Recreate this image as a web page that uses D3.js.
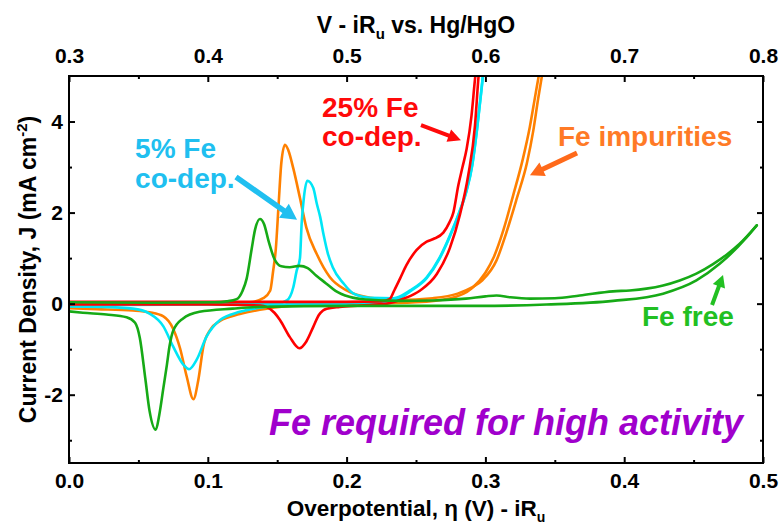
<!DOCTYPE html>
<html>
<head>
<meta charset="utf-8">
<script src="https://cdn.jsdelivr.net/npm/d3@7"></script>
<style>
  body { margin: 0; background: #fff; }
  svg { display: block; }
  text { font-family: "Liberation Sans", Arial, Helvetica, sans-serif; font-weight: bold; }
</style>
</head>
<body>
<svg id="chart" width="780" height="524"></svg>
<script>
// ---- axis ticks ----
const overpotentialTicks = [0.0, 0.1, 0.2, 0.3, 0.4, 0.5];
const potentialTicks = [0.3, 0.4, 0.5, 0.6, 0.7, 0.8];   // V - iRu vs. Hg/HgO
const currentTicks = [-2, 0, 2, 4];
const potentialOffset = 0.3;                              // V vs Hg/HgO = η + 0.3

// ---- cyclic voltammograms: [η (V), J (mA cm^-2)] ----
// Fe free
const feFreeAnodic = [
  [0.000, 0.03], [0.060, 0.02], [0.105, 0.03], [0.1136, 0.05], [0.1208, 0.10], [0.125, 0.28],
  [0.128, 0.55], [0.1316, 1.20], [0.134, 1.62], [0.1376, 1.86], [0.1405, 1.75], [0.144, 1.35],
  [0.148, 0.98], [0.153, 0.82], [0.159, 0.80], [0.166, 0.83], [0.172, 0.78], [0.178, 0.62],
  [0.185, 0.45], [0.192, 0.28], [0.202, 0.15], [0.214, 0.09], [0.238, 0.06], [0.262, 0.07],
  [0.286, 0.11], [0.300, 0.16], [0.308, 0.18], [0.318, 0.14], [0.332, 0.11], [0.350, 0.12],
  [0.368, 0.18], [0.392, 0.27], [0.404, 0.29], [0.416, 0.33], [0.428, 0.40], [0.440, 0.51],
  [0.452, 0.66], [0.464, 0.87], [0.474, 1.08], [0.483, 1.31], [0.4955, 1.72]
];
const feFreeCathodic = [
  [0.000, -0.17], [0.010, -0.20], [0.027, -0.24], [0.0415, -0.30], [0.0476, -0.42], [0.051, -0.75],
  [0.055, -1.65], [0.058, -2.35], [0.0625, -2.77], [0.065, -2.45], [0.068, -1.85], [0.0705, -1.35],
  [0.0725, -0.92], [0.075, -0.60], [0.082, -0.33], [0.094, -0.18], [0.118, -0.11], [0.138, -0.07],
  [0.200, -0.05], [0.296, -0.05], [0.344, -0.02], [0.392, 0.06], [0.428, 0.22], [0.452, 0.51],
  [0.469, 0.88], [0.488, 1.45], [0.4955, 1.72]
];
// Fe impurities
const feImpAnodic = [
  [0.000, 0.00], [0.080, 0.00], [0.130, 0.03], [0.140, 0.12], [0.145, 0.29], [0.147, 0.70],
  [0.149, 1.20], [0.151, 2.17], [0.153, 3.10], [0.1556, 3.49], [0.158, 3.37], [0.1616, 2.97],
  [0.1664, 2.32], [0.171, 1.67], [0.1785, 1.09], [0.188, 0.58], [0.200, 0.29], [0.217, 0.13],
  [0.238, 0.08], [0.262, 0.12], [0.280, 0.22], [0.290, 0.35], [0.298, 0.52], [0.308, 0.95],
  [0.315, 1.55], [0.3225, 2.30], [0.330, 3.10], [0.3345, 3.80], [0.338, 4.50], [0.341, 5.05],
  [0.344, 5.60]
];
const feImpCathodic = [
  [0.000, -0.10], [0.020, -0.12], [0.046, -0.15], [0.058, -0.19], [0.068, -0.28], [0.075, -0.55],
  [0.080, -0.98], [0.0848, -1.60], [0.0896, -2.10], [0.0932, -1.67], [0.0968, -0.94], [0.1016, -0.58],
  [0.1088, -0.38], [0.123, -0.23], [0.1424, -0.11], [0.163, -0.04], [0.200, -0.01], [0.250, 0.03],
  [0.275, 0.12], [0.290, 0.33], [0.300, 0.68], [0.306, 1.02], [0.313, 1.62], [0.320, 2.38],
  [0.327, 3.18], [0.332, 3.88], [0.336, 4.58], [0.339, 5.10], [0.342, 5.60]
];
// 5% Fe co-deposited
const fe5Anodic = [
  [0.000, -0.03], [0.100, -0.02], [0.150, 0.00], [0.157, 0.07], [0.1616, 0.36], [0.164, 0.72],
  [0.1664, 1.00], [0.1676, 1.75], [0.1693, 2.35], [0.1717, 2.70], [0.176, 2.54], [0.1785, 2.20],
  [0.181, 1.90], [0.1835, 1.50], [0.1865, 1.10], [0.190, 0.80], [0.1976, 0.45], [0.205, 0.22],
  [0.217, 0.13], [0.2337, 0.12], [0.2457, 0.29], [0.2577, 0.58], [0.267, 1.01], [0.2745, 1.50],
  [0.281, 2.00], [0.2865, 2.50], [0.2905, 3.05], [0.294, 3.85], [0.2973, 4.75], [0.300, 5.55]
];
const fe5Cathodic = [
  [0.000, -0.06], [0.022, -0.07], [0.046, -0.11], [0.058, -0.22], [0.068, -0.50], [0.075, -0.94],
  [0.0824, -1.34], [0.0865, -1.44], [0.092, -1.23], [0.099, -0.73], [0.1088, -0.36], [0.123, -0.18],
  [0.142, -0.07], [0.160, -0.01], [0.200, 0.00], [0.225, 0.03], [0.238, 0.11], [0.2457, 0.27],
  [0.2577, 0.56], [0.267, 0.99], [0.2745, 1.48], [0.281, 1.98], [0.2865, 2.48], [0.2905, 3.03],
  [0.294, 3.83], [0.2973, 4.73], [0.300, 5.53]
];
// 25% Fe co-deposited
const fe25Anodic = [
  [0.000, 0.04], [0.100, 0.04], [0.200, 0.04], [0.225, 0.05], [0.231, 0.10], [0.2345, 0.30],
  [0.2385, 0.55], [0.243, 0.84], [0.2505, 1.18], [0.2577, 1.36], [0.2625, 1.42], [0.2697, 1.56],
  [0.274, 1.78], [0.2769, 2.00], [0.2805, 2.60], [0.2835, 3.00], [0.2865, 3.40], [0.290, 4.13],
  [0.2925, 4.93], [0.295, 5.60]
];
const fe25Cathodic = [
  [0.000, -0.02], [0.100, -0.02], [0.138, -0.04], [0.1424, -0.07], [0.148, -0.20], [0.152, -0.36],
  [0.159, -0.73], [0.166, -0.98], [0.171, -0.83], [0.176, -0.51], [0.180, -0.25], [0.183, -0.15],
  [0.1857, -0.11], [0.195, -0.07], [0.210, -0.04], [0.229, 0.00], [0.241, 0.11], [0.253, 0.29],
  [0.265, 0.65], [0.2745, 1.23], [0.2817, 1.96], [0.2877, 2.83], [0.2925, 3.91], [0.2949, 4.93],
  [0.297, 5.60]
];

// ---- annotation text and anchors (data units) ----
const labels = [
  { lines: ["25% Fe", "co-dep."], at: [0.1823, 4.09], lineGap: 29, color: "#ff0a0a" },
  { lines: ["5% Fe", "co-dep."],  at: [0.0476, 3.20], lineGap: 30, color: "#20bff0" },
  { lines: ["Fe impurities"],     at: [0.3523, 3.46], lineGap: 0,  color: "#ff7a26" },
  { lines: ["Fe free"],           at: [0.4128, -0.49], lineGap: 0, color: "#22c022" }
];
const arrows = [
  { from: [0.2536, 3.92], to: [0.2824, 3.59], color: "#ff0a0a", shaft: 4,   head: 13, spread: 13 },
  { from: [0.1203, 2.78], to: [0.1643, 1.84], color: "#20bff0", shaft: 5.5, head: 16, spread: 17 },
  { from: [0.3660, 3.31], to: [0.3321, 2.82], color: "#ff6a1a", shaft: 5,   head: 14, spread: 15 },
  { from: [0.4633, -0.03], to: [0.4712, 0.63], color: "#22c022", shaft: 4,  head: 12, spread: 13 }
];
const message = { text: "Fe required for high activity", at: [0.1441, -2.89], color: "#a000cc" };

// ---- layout ----
const svg = d3.select("#chart");
const plotLeft = 69, plotRight = 763, plotTop = 76, plotBottom = 463;

const x = d3.scaleLinear().domain([0, 0.5]).range([plotLeft, plotRight]);
const xTop = d3.scaleLinear().domain([0 + potentialOffset, 0.5 + potentialOffset]).range([plotLeft, plotRight]);
const y = d3.scaleLinear().domain([-3.5, 5]).range([plotBottom, plotTop]);

svg.append("defs").append("clipPath").attr("id", "plotClip")
  .append("rect").attr("x", plotLeft).attr("y", plotTop)
  .attr("width", plotRight - plotLeft).attr("height", plotBottom - plotTop);

// ---- curves ----
const series = [
  { name: "Fe impurities", color: "#ff8000", scans: [feImpAnodic, feImpCathodic] },
  { name: "5% Fe co-dep.", color: "#00e6f6", scans: [fe5Anodic, fe5Cathodic] },
  { name: "25% Fe co-dep.", color: "#ff0000", scans: [fe25Anodic, fe25Cathodic] },
  { name: "Fe free", color: "#16aa16", scans: [feFreeAnodic, feFreeCathodic] }
];
const line = d3.line().x(d => x(d[0])).y(d => y(d[1])).curve(d3.curveMonotoneX);

const curves = svg.append("g").attr("clip-path", "url(#plotClip)");
series.forEach(s => {
  s.scans.forEach(scan => {
    curves.append("path")
      .attr("d", line(scan))
      .attr("fill", "none")
      .attr("stroke", s.color)
      .attr("stroke-width", 2.6)
      .attr("stroke-linejoin", "round")
      .attr("stroke-linecap", "round");
  });
});

// ---- axes (ticks point inward) ----
const tickFont = 21;
function styleAxis(g) {
  g.select(".domain").remove();
  g.selectAll(".tick line").attr("stroke", "#000").attr("stroke-width", 2);
  g.selectAll(".tick text").attr("fill", "#000").style("font-size", tickFont + "px");
}
const minorX = [0.05, 0.15, 0.25, 0.35, 0.45];
const minorXTop = minorX.map(v => v + potentialOffset);
const minorY = [-3, -1, 1, 3];

svg.append("g").attr("transform", `translate(0,${plotBottom})`)
  .call(d3.axisBottom(x).tickValues(overpotentialTicks).tickFormat(d3.format(".1f")).tickSize(-6).tickPadding(10))
  .call(styleAxis);
svg.append("g").attr("transform", `translate(0,${plotBottom})`)
  .call(d3.axisBottom(x).tickValues(minorX).tickFormat("").tickSize(-3))
  .call(styleAxis);

svg.append("g").attr("transform", `translate(0,${plotTop})`)
  .call(d3.axisTop(xTop).tickValues(potentialTicks).tickFormat(d3.format(".1f")).tickSize(-6).tickPadding(13))
  .call(styleAxis);
svg.append("g").attr("transform", `translate(0,${plotTop})`)
  .call(d3.axisTop(xTop).tickValues(minorXTop).tickFormat("").tickSize(-3))
  .call(styleAxis);

svg.append("g").attr("transform", `translate(${plotLeft},0)`)
  .call(d3.axisLeft(y).tickValues(currentTicks).tickFormat(d => String(d)).tickSize(-6).tickPadding(6))
  .call(styleAxis);
svg.append("g").attr("transform", `translate(${plotLeft},0)`)
  .call(d3.axisLeft(y).tickValues(minorY).tickFormat("").tickSize(-3))
  .call(styleAxis);

svg.append("g").attr("transform", `translate(${plotRight},0)`)
  .call(d3.axisRight(y).tickValues(currentTicks).tickFormat("").tickSize(-6))
  .call(styleAxis);
svg.append("g").attr("transform", `translate(${plotRight},0)`)
  .call(d3.axisRight(y).tickValues(minorY).tickFormat("").tickSize(-3))
  .call(styleAxis);

// frame
svg.append("rect")
  .attr("x", plotLeft).attr("y", plotTop)
  .attr("width", plotRight - plotLeft).attr("height", plotBottom - plotTop)
  .attr("fill", "none").attr("stroke", "#000").attr("stroke-width", 2);

// ---- axis titles ----
const midX = (plotLeft + plotRight) / 2;
const topTitle = svg.append("text").attr("x", midX).attr("y", 33)
  .attr("text-anchor", "middle").style("font-size", "23px").attr("fill", "#000");
topTitle.append("tspan").text("V - iR");
topTitle.append("tspan").text("u").style("font-size", "15px").attr("dy", 6);
topTitle.append("tspan").text(" vs. Hg/HgO").attr("dy", -6);

const bottomTitle = svg.append("text").attr("x", midX).attr("y", 516)
  .attr("text-anchor", "middle").style("font-size", "22.5px").attr("fill", "#000");
bottomTitle.append("tspan").text("Overpotential, \u03B7 (V) - iR");
bottomTitle.append("tspan").text("u").style("font-size", "14px").attr("dy", 6);

const yTitle = svg.append("text")
  .attr("transform", `translate(36,${(plotTop + plotBottom) / 2}) rotate(-90)`)
  .attr("text-anchor", "middle").style("font-size", "23px").attr("fill", "#000");
yTitle.append("tspan").text("Current Density, J (mA cm");
yTitle.append("tspan").text("-2").style("font-size", "15px").attr("dy", -9);
yTitle.append("tspan").text(")").attr("dy", 9);

// ---- annotations ----
const notes = svg.append("g");
labels.forEach(l => {
  l.lines.forEach((t, i) => {
    notes.append("text")
      .attr("x", x(l.at[0])).attr("y", y(l.at[1]) + i * l.lineGap)
      .style("font-size", "28px").attr("fill", l.color).text(t);
  });
});

arrows.forEach(a => {
  const x1 = x(a.from[0]), y1 = y(a.from[1]), x2 = x(a.to[0]), y2 = y(a.to[1]);
  const len = Math.hypot(x2 - x1, y2 - y1);
  const ux = (x2 - x1) / len, uy = (y2 - y1) / len;
  const px = -uy, py = ux;
  const bx = x2 - ux * a.head, by = y2 - uy * a.head;
  const hw = a.shaft / 2, sw = a.spread / 2;
  const pts = [
    [x1 + px * hw, y1 + py * hw],
    [bx + px * hw, by + py * hw],
    [bx + px * sw, by + py * sw],
    [x2, y2],
    [bx - px * sw, by - py * sw],
    [bx - px * hw, by - py * hw],
    [x1 - px * hw, y1 - py * hw]
  ];
  notes.append("polygon").attr("points", pts.map(p => p.join(",")).join(" ")).attr("fill", a.color);
});

notes.append("text")
  .attr("x", x(message.at[0])).attr("y", y(message.at[1]))
  .style("font-size", "36px").style("font-style", "italic")
  .attr("fill", message.color).text(message.text);
</script>
</body>
</html>
